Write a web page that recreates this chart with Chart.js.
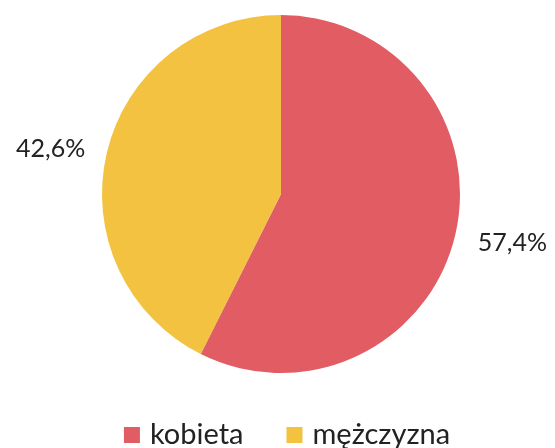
<!DOCTYPE html>
<html>
<head>
    <meta charset="UTF-8">
    <title>Płeć</title>
    <script src="https://cdn.jsdelivr.net/npm/chart.js@4.4.1/dist/chart.umd.min.js"></script>
    <style>
        html, body { margin: 0; padding: 0; background: #fff; }
        #wrap { width: 555px; height: 448px; }
    </style>
</head>
<body>
<div id="wrap"><canvas id="pie-chart" width="555" height="448"></canvas></div>
<script>
    var labels = ["kobieta", "mężczyzna"];
    var values = [57.4, 42.6];
    var valueLabels = ["57,4%", "42,6%"];
    var colors = ["#E25C63", "#F3C240"];

    // etykiety procentowe obok wycinków + legenda na dole
    var extras = {
        id: 'extras',
        afterDraw: function (chart) {
            var ctx = chart.ctx;
            var meta = chart.getDatasetMeta(0);
            ctx.save();
            ctx.fillStyle = '#222';
            ctx.font = '25px Lato';
            ctx.textBaseline = 'middle';
            meta.data.forEach(function (arc, i) {
                var mid = (arc.startAngle + arc.endAngle) / 2;
                var r = arc.outerRadius + 16;
                var x = arc.x + Math.cos(mid) * r;
                var y = arc.y + Math.sin(mid) * r;
                if (Math.cos(mid) < 0) {
                    ctx.textAlign = 'right';
                    ctx.fillText(valueLabels[i], x - 6, y);
                } else {
                    ctx.textAlign = 'left';
                    ctx.fillText(valueLabels[i], x + 7, y + 4);
                }
            });

            // legenda
            ctx.font = '29px Lato';
            ctx.textAlign = 'left';
            ctx.textBaseline = 'alphabetic';
            var box = 16, gapText = 10, gapItem = 43;
            var total = 0;
            labels.forEach(function (l, i) {
                total += box + gapText + ctx.measureText(l).width;
                if (i < labels.length - 1) total += gapItem;
            });
            var cx = (chart.chartArea.left + chart.chartArea.right) / 2 + 6;
            var x0 = cx - total / 2;
            var base = 444;
            labels.forEach(function (l, i) {
                ctx.fillStyle = colors[i];
                ctx.fillRect(x0, base - 17, box, box);
                ctx.fillStyle = '#222';
                ctx.fillText(l, x0 + box + gapText, base);
                x0 += box + gapText + ctx.measureText(l).width + gapItem;
            });
            ctx.restore();
        }
    };

    var chart = new Chart(document.getElementById("pie-chart"), {
        type: 'pie',
        data: {
            labels: labels,
            datasets: [{
                data: values,
                backgroundColor: colors,
                borderWidth: 0
            }]
        },
        options: {
            responsive: false,
            animation: false,
            layout: {
                padding: { top: 15, bottom: 75, left: 7, right: 0 }
            },
            plugins: {
                legend: { display: false },
                tooltip: { enabled: false }
            }
        },
        plugins: [extras]
    });
</script>
</body>
</html>
